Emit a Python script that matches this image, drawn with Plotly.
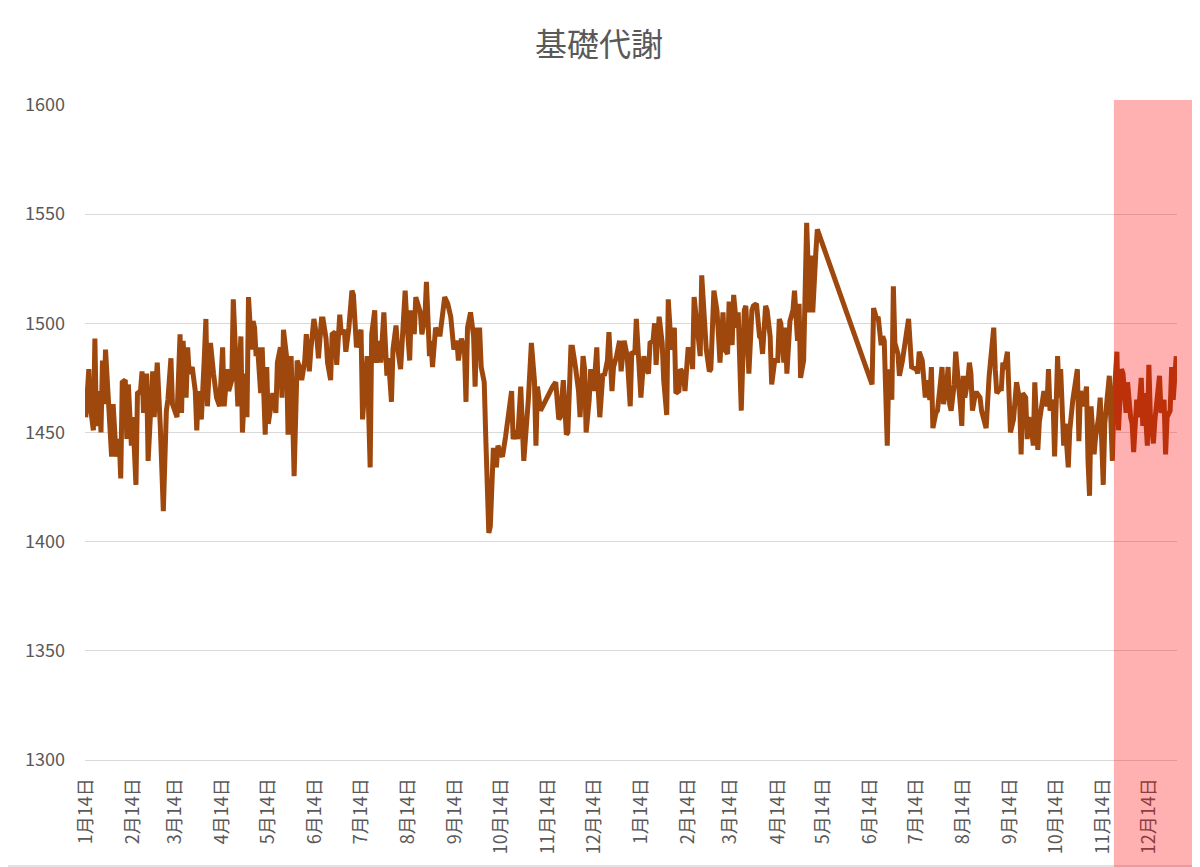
import pandas as pd
import plotly.graph_objects as go

# measurement days counted from start_date, and the basal metabolism value (kcal)
start_date = "2021-01-14"
day_offsets = [
    0, 2, 3, 5, 6, 7, 9, 10, 11, 12, 13, 15, 16, 17, 18, 20, 22, 23, 24, 26,
    27, 28, 30, 31, 33, 34, 36, 37, 38, 40, 41, 42, 44, 45, 47, 49, 51, 53, 54, 56,
    57, 60, 62, 63, 64, 66, 67, 68, 70, 72, 73, 74, 76, 78, 79, 80, 82, 84, 86, 88,
    90, 91, 93, 94, 96, 97, 99, 100, 102, 103, 105, 106, 107, 109, 110, 111, 112, 113, 115, 116,
    118, 119, 120, 122, 123, 125, 126, 128, 129, 130, 132, 133, 135, 136, 137, 139, 141, 142, 144, 145,
    147, 148, 150, 152, 153, 155, 156, 158, 159, 161, 162, 164, 165, 167, 168, 170, 171, 173, 175, 176,
    178, 180, 181, 182, 185, 187, 188, 190, 191, 193, 194, 196, 198, 199, 201, 202, 204, 205, 207, 208,
    210, 211, 213, 214, 216, 217, 218, 220, 221, 223, 224, 226, 227, 228, 230, 232, 233, 236, 238, 240,
    242, 244, 245, 247, 249, 250, 251, 253, 255, 256, 257, 259, 260, 262, 263, 265, 266, 268, 270, 271,
    273, 274, 276, 277, 278, 280, 281, 283, 284, 286, 288, 290, 291, 293, 295, 296, 297, 299, 303, 307,
    309, 311, 312, 314, 316, 317, 319, 320, 322, 324, 325, 327, 328, 329, 331, 332, 334, 336, 337, 338,
    340, 341, 343, 344, 346, 347, 349, 351, 352, 354, 356, 357, 358, 359, 361, 362, 364, 365, 367, 368,
    370, 371, 373, 374, 375, 377, 379, 380, 382, 383, 385, 387, 388, 390, 391, 393, 394, 396, 398, 399,
    400, 402, 404, 405, 407, 408, 410, 411, 413, 415, 416, 417, 419, 420, 422, 423, 425, 426, 428, 429,
    431, 433, 434, 436, 438, 439, 441, 443, 444, 445, 447, 448, 450, 451, 453, 455, 456, 457, 459, 460,
    461, 463, 465, 466, 468, 469, 470, 472, 474, 476, 477, 478, 480, 481, 517, 518, 520, 521, 523, 524,
    525, 527, 528, 530, 531, 532, 534, 535, 537, 539, 540, 541, 543, 545, 546, 547, 548, 550, 551, 552,
    553, 555, 556, 557, 559, 560, 562, 563, 564, 566, 567, 568, 569, 571, 572, 574, 575, 576, 577, 578,
    580, 581, 582, 583, 585, 586, 588, 589, 591, 592, 594, 596, 597, 598, 599, 601, 602, 603, 604, 606,
    607, 608, 610, 611, 612, 614, 615, 616, 618, 619, 620, 622, 623, 624, 626, 627, 629, 630, 632, 633,
    634, 636, 637, 639, 640, 641, 643, 644, 646, 647, 649, 650, 652, 653, 654, 656, 658, 659, 660, 661,
    663, 664, 666, 667, 669, 670, 672, 673, 675, 676, 678, 679, 681, 682, 684, 685, 687, 688, 689, 691,
    692, 694, 695, 696, 698, 699, 700, 702, 703, 705, 706, 707, 709, 710, 711, 713, 714, 715, 717,
]
bmr = [
    1457, 1479, 1462, 1451, 1493, 1453, 1469, 1450, 1483, 1463, 1488, 1459, 1456, 1439, 1463, 1439, 1447, 1429, 1473, 1474,
    1447, 1472, 1444, 1457, 1426, 1468, 1469, 1478, 1459, 1477, 1437, 1451, 1478, 1457, 1482, 1453, 1414, 1460, 1465, 1484,
    1463, 1457, 1495, 1459, 1492, 1466, 1489, 1477, 1480, 1469, 1451, 1469, 1456, 1485, 1502, 1462, 1491, 1477, 1466, 1462,
    1489, 1462, 1479, 1469, 1474, 1511, 1469, 1462, 1494, 1450, 1477, 1457, 1512, 1488, 1501, 1498, 1485, 1489, 1468, 1489,
    1449, 1480, 1454, 1466, 1468, 1459, 1482, 1489, 1466, 1497, 1485, 1449, 1485, 1459, 1430, 1483, 1479, 1474, 1483, 1495,
    1478, 1488, 1502, 1493, 1484, 1502, 1502, 1493, 1482, 1474, 1495, 1496, 1481, 1504, 1495, 1497, 1487, 1498, 1515, 1513,
    1489, 1495, 1497, 1456, 1485, 1434, 1495, 1506, 1482, 1492, 1482, 1505, 1476, 1484, 1464, 1488, 1499, 1489, 1479, 1491,
    1515, 1502, 1483, 1506, 1495, 1512, 1509, 1505, 1495, 1503, 1519, 1485, 1492, 1480, 1498, 1495, 1495, 1512, 1509, 1503,
    1488, 1492, 1483, 1493, 1488, 1464, 1498, 1505, 1494, 1471, 1497, 1497, 1480, 1473, 1448, 1404, 1407, 1443, 1434, 1444,
    1440, 1439, 1448, 1454, 1460, 1469, 1447, 1451, 1447, 1471, 1437, 1454, 1465, 1491, 1474, 1444, 1471, 1460, 1466, 1471,
    1473, 1456, 1457, 1474, 1449, 1450, 1489, 1489, 1480, 1469, 1457, 1485, 1479, 1450, 1465, 1479, 1469, 1489, 1469, 1457,
    1477, 1476, 1483, 1496, 1469, 1480, 1485, 1492, 1478, 1492, 1485, 1476, 1462, 1487, 1486, 1502, 1476, 1466, 1485, 1480,
    1477, 1491, 1492, 1500, 1481, 1503, 1491, 1474, 1458, 1511, 1488, 1498, 1468, 1469, 1479, 1477, 1469, 1488, 1488, 1479,
    1512, 1498, 1485, 1522, 1497, 1488, 1478, 1479, 1515, 1506, 1495, 1482, 1505, 1488, 1486, 1510, 1490, 1513, 1498, 1505,
    1460, 1506, 1508, 1477, 1506, 1508, 1509, 1494, 1493, 1486, 1508, 1506, 1494, 1472, 1483, 1483, 1502, 1500, 1482, 1498,
    1477, 1501, 1506, 1515, 1492, 1509, 1475, 1483, 1546, 1505, 1531, 1505, 1532, 1543, 1472, 1507, 1502, 1503, 1490, 1494,
    1492, 1444, 1479, 1465, 1517, 1491, 1486, 1476, 1483, 1491, 1496, 1502, 1480, 1479, 1479, 1477, 1487, 1483, 1476, 1466,
    1474, 1465, 1480, 1452, 1459, 1460, 1473, 1480, 1463, 1471, 1480, 1463, 1460, 1472, 1487, 1474, 1463, 1453, 1476, 1466,
    1474, 1482, 1477, 1460, 1468, 1468, 1466, 1460, 1453, 1452, 1476, 1492, 1498, 1479, 1468, 1470, 1470, 1482, 1479, 1487,
    1471, 1450, 1456, 1469, 1473, 1465, 1440, 1468, 1466, 1447, 1457, 1451, 1444, 1473, 1442, 1455, 1463, 1469, 1462, 1479,
    1460, 1465, 1439, 1485, 1466, 1479, 1444, 1454, 1434, 1451, 1465, 1469, 1479, 1446, 1469, 1462, 1471, 1437, 1421, 1462,
    1440, 1448, 1457, 1466, 1426, 1454, 1466, 1476, 1437, 1465, 1487, 1451, 1479, 1477, 1459, 1473, 1457, 1454, 1441, 1465,
    1457, 1475, 1453, 1468, 1444, 1481, 1457, 1445, 1456, 1474, 1476, 1459, 1465, 1440, 1457, 1460, 1480, 1465, 1485,
]
# monthly tick labels on the 14th
tick_dates = pd.date_range("2021-01-01", "2022-12-01", freq="MS") + pd.Timedelta(days=13)
tick_labels = [f"{d.month}月14日" for d in tick_dates]
highlight_start = "2022-11-21"

dates = pd.to_datetime(start_date) + pd.to_timedelta(day_offsets, unit="D")
x_min = dates[0] - pd.Timedelta(hours=12)
x_max = dates[-1] + pd.Timedelta(hours=12)

font = "Noto Sans CJK JP"
grey = "#595959"

# the page body has an 8px margin, so the figure is 8px smaller than the window
W, H = 1192, 859
ml, mr, mt, mb = 77, 23, 97, 107
pw, ph = W - ml - mr, H - mt - mb

fig = go.Figure()
fig.add_trace(go.Scatter(x=dates, y=bmr, mode="lines",
                         line=dict(color="#9E480E", width=5),
                         showlegend=False, hoverinfo="x+y"))

# translucent red box over the last weeks
span = (x_max - x_min).total_seconds()
hx0 = (pd.to_datetime(highlight_start) - x_min).total_seconds() / span
fig.add_shape(type="rect", xref="paper", yref="paper",
              x0=hx0, x1=(pw + mr + 5) / pw, y0=-(mb + 5) / ph, y1=(ph + 5) / ph,
              fillcolor="rgba(255,0,0,0.31)", line_width=0, layer="above")

# bottom edge of the chart frame
fig.add_shape(type="line", xref="paper", yref="paper",
              x0=-ml / pw, x1=(pw + mr) / pw, y0=-(mb - 1) / ph, y1=-(mb - 1) / ph,
              line=dict(color="#D9D9D9", width=1.5), layer="below")

fig.update_layout(
    width=W, height=H,
    margin=dict(l=ml, r=mr, t=mt, b=mb),
    paper_bgcolor="white", plot_bgcolor="white",
    font=dict(family=font, color=grey),
    title=dict(text="基礎代謝", x=591 / W, xanchor="center", y=1 - 37 / H, yanchor="middle",
               font=dict(size=32, color=grey, family=font)),
    xaxis=dict(type="date", range=[x_min, x_max], tickvals=tick_dates, ticktext=tick_labels,
               tickangle=-90, showgrid=False, showline=True, linecolor="#D9D9D9", linewidth=1,
               ticks="", tickfont=dict(size=18, color=grey, family=font), ticklabelstandoff=10,
               zeroline=False),
    yaxis=dict(range=[1300, 1600], dtick=50, tick0=1300, showgrid=True, gridcolor="#D9D9D9",
               gridwidth=1, zeroline=False, showline=False, ticks="",
               tickfont=dict(size=18, color=grey, family=font), ticklabelstandoff=19),
)

fig.write_html("out.html")
